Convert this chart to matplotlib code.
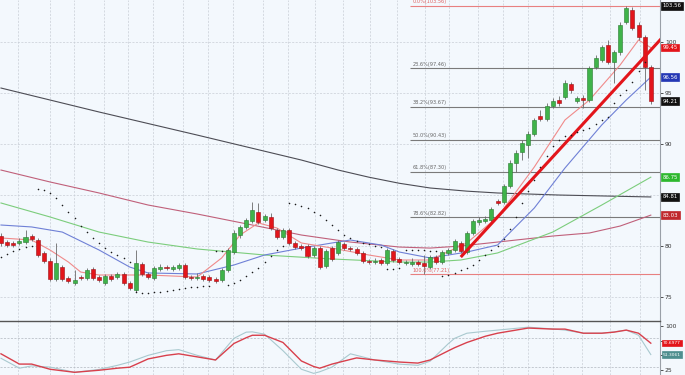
import numpy as np
import matplotlib.pyplot as plt

# ---- candles ----
opens = [80.98, 80.39, 80.30, 80.30, 80.39, 80.98, 80.59, 79.32, 78.53, 76.77,
         77.94, 76.87, 76.37, 76.96, 76.87, 77.75, 76.96, 76.37, 77.06, 76.96,
         77.26, 76.37, 75.69, 78.24, 77.26, 76.87, 77.75, 77.94, 77.75, 77.85,
         78.14, 76.96, 76.87, 77.06, 76.96, 76.77, 76.67, 77.65, 79.41, 81.08,
         81.87, 82.45, 83.34, 82.55, 82.85, 81.57, 80.88, 81.57, 80.30, 80.00,
         80.00, 79.12, 79.80, 78.04, 79.80, 79.32, 80.20, 79.80, 79.71, 79.32,
         78.53, 78.43, 78.63, 78.34, 79.51, 78.73, 78.34, 78.24, 78.43, 78.34,
         77.94, 78.92, 78.43, 79.32, 79.61, 80.30, 79.41, 81.28, 82.36, 82.45,
         82.55, 84.41, 84.32, 85.88, 88.14, 89.22, 89.90, 90.98, 92.75, 92.45,
         93.73, 94.32, 94.61, 95.88, 94.22, 94.51, 94.32, 97.55, 98.24, 99.71,
         98.04, 99.02, 101.96, 103.14, 101.67, 100.49, 97.55]
highs = [81.28, 80.59, 80.49, 80.79, 81.57, 81.18, 80.79, 79.51, 78.83, 80.30,
         78.14, 77.06, 77.65, 77.16, 77.85, 77.94, 77.16, 77.26, 77.26, 77.45,
         77.45, 76.57, 79.61, 78.43, 77.45, 78.04, 78.24, 78.14, 78.14, 78.34,
         78.34, 77.16, 77.36, 77.26, 77.16, 76.96, 77.85, 79.80, 81.57, 82.06,
         82.75, 84.32, 84.22, 83.14, 83.24, 81.77, 81.77, 81.77, 80.49, 80.20,
         80.20, 80.00, 80.00, 79.71, 80.00, 80.59, 80.39, 80.00, 79.90, 79.51,
         78.73, 78.83, 78.83, 79.80, 79.71, 78.92, 78.63, 78.83, 78.63, 79.12,
         79.12, 79.12, 79.61, 79.80, 80.69, 80.49, 81.47, 82.65, 82.85, 82.94,
         83.83, 84.61, 86.08, 88.43, 89.41, 90.39, 91.28, 92.55, 93.34, 94.02,
         94.51, 94.71, 96.28, 96.08, 94.71, 94.81, 97.65, 98.73, 99.71, 100.20,
         99.22, 101.96, 103.56, 103.45, 101.96, 100.69, 97.75]
lows = [80.00, 79.90, 79.90, 80.10, 80.20, 80.49, 78.92, 78.34, 76.57, 76.57,
        76.57, 76.37, 76.18, 76.67, 76.67, 76.67, 76.47, 76.18, 76.57, 76.77,
        76.18, 75.69, 75.49, 77.06, 76.77, 76.67, 77.55, 77.65, 77.55, 77.65,
        76.77, 76.67, 76.67, 76.57, 76.47, 76.37, 76.47, 77.45, 79.22, 80.79,
        81.67, 82.26, 82.16, 82.36, 81.57, 80.69, 80.69, 80.10, 79.71, 79.61,
        78.83, 78.92, 77.75, 77.85, 78.53, 79.12, 79.61, 79.51, 79.12, 78.34,
        78.24, 78.24, 78.14, 78.14, 78.43, 78.24, 78.14, 78.04, 78.04, 77.21,
        77.75, 78.24, 78.24, 79.12, 79.41, 79.32, 79.22, 81.08, 82.06, 82.26,
        82.36, 84.02, 84.12, 85.69, 87.26, 88.43, 88.63, 90.79, 92.26, 92.26,
        93.53, 93.73, 94.41, 95.00, 94.02, 93.53, 94.12, 97.36, 98.04, 97.84,
        95.98, 98.73, 101.77, 101.18, 100.20, 95.30, 93.92]
closes = [80.30, 80.10, 80.10, 80.49, 80.88, 80.69, 79.12, 78.53, 76.77, 78.34,
          76.77, 76.57, 76.67, 76.87, 77.65, 76.87, 76.67, 77.06, 76.77, 77.26,
          76.37, 75.88, 78.34, 77.26, 76.96, 77.85, 77.94, 77.85, 77.94, 78.14,
          76.96, 76.87, 76.96, 76.77, 76.67, 76.57, 77.65, 79.61, 81.28, 81.87,
          82.55, 83.53, 82.36, 82.94, 81.77, 80.88, 81.57, 80.30, 79.90, 79.80,
          79.02, 79.80, 77.94, 79.51, 78.73, 80.39, 79.80, 79.71, 79.32, 78.53,
          78.43, 78.53, 78.34, 79.61, 78.63, 78.43, 78.43, 78.43, 78.24, 78.04,
          78.92, 78.43, 79.41, 79.61, 80.49, 79.51, 81.28, 82.45, 82.55, 82.65,
          83.63, 84.22, 85.88, 88.14, 89.12, 90.10, 90.98, 92.36, 92.45, 93.73,
          94.22, 94.02, 95.98, 95.30, 94.51, 94.32, 97.45, 98.43, 99.51, 98.04,
          99.02, 101.67, 103.34, 101.37, 100.49, 97.55, 94.21]

# parabolic SAR, one value per candle (nan = no dot)
sar = [78.92, 79.22, 79.51, 79.71, 79.90, 80.00, 85.59, 85.49, 85.20, 84.71,
       84.02, 83.34, 82.75, 81.96, 81.37, 80.79, 80.30, 79.80, 79.41, 79.12,
       78.83, 78.43, 75.49, 75.39, 75.39, 75.49, 75.49, 75.59, 75.69, 75.78,
       75.88, 75.98, 75.98, 76.08, 76.08, 79.51, 79.51, 76.18, 76.37, 76.67,
       77.06, 77.45, 77.85, 78.43, 79.02, 79.61, 80.00, 84.22, 84.12, 83.92,
       83.73, 83.34, 83.04, 82.55, 82.06, 81.57, 81.08, 80.79, 80.49, 80.30,
       80.20, 80.00, 79.90, 77.75, 77.75, 77.85, 79.61, 79.61, 79.61, 79.61,
       79.51, 79.51, 77.06, 77.16, 77.36, 77.65, 77.85, 78.14, 78.63, 79.12,
       79.61, 80.00, 80.69, 81.67, 82.85, 84.22, 85.39, 86.47, 87.75, 88.83,
       89.81, 90.39, 90.79, 90.88, 91.18, 91.37, 91.57, 91.96, 92.36, 92.65,
       94.02, 94.81, 95.30, 96.08, 97.16, 98.04, np.nan]

# moving averages sampled at candle positions
ma200_x = [0, 16, 32, 49, 55, 60, 65, 70, 76, 81, 91, 106]
ma200_y = [95.49, 93.14, 90.88, 88.43, 87.45, 86.75, 86.15, 85.69, 85.38, 85.20,
           85.00, 84.81]
ma100_x = [0, 8, 16, 24, 32, 41, 49, 57, 65, 70, 75, 81, 90, 96, 101, 106]
ma100_y = [87.45, 86.28, 85.20, 84.02, 83.14, 82.06, 81.08, 80.39, 79.90, 79.80,
           80.00, 80.39, 80.98, 81.28, 81.96, 83.03]
ma50_x = [0, 8, 16, 24, 32, 43, 54, 65, 70, 75, 81, 90, 98, 106]
ma50_y = [84.22, 82.85, 81.37, 80.39, 79.71, 79.12, 78.73, 78.43, 78.43, 78.63,
          79.32, 81.37, 84.02, 86.75]
ma20_x = [0, 5, 10, 16, 21, 24, 32, 38, 43, 49, 54, 57, 62, 65, 70, 76, 81, 87,
          92, 98, 102, 106]
ma20_y = [82.06, 81.87, 81.37, 79.61, 77.94, 77.36, 77.26, 78.14, 79.12, 79.80,
          80.30, 80.59, 80.10, 79.41, 78.83, 79.41, 80.10, 83.73, 87.65, 91.87,
          94.32, 96.56]
ma10_x = [0, 5, 8, 11, 13, 16, 24, 32, 36, 39, 42, 45, 49, 54, 60, 65, 70, 76,
          81, 87, 92, 96, 101, 104, 106]
ma10_y = [80.79, 80.59, 79.61, 78.43, 77.45, 77.16, 77.16, 76.96, 78.83, 81.08,
          82.26, 81.77, 80.30, 79.80, 79.12, 78.63, 78.63, 80.30, 82.85, 87.75,
          92.36, 94.32, 97.75, 100.20, 99.45]

# trend line and fibonacci retracement
trend_x = [75, 107.8]
trend_y = [78.92, 100.39]
fib_pct = ['0.0%', '23.6%', '38.2%', '50.0%', '61.8%', '78.6%', '100.0%']
fib_val = [103.56, 97.46, 93.67, 90.43, 87.30, 82.82, 77.21]
fib_from = 66.7

# oscillator (slow = red, fast = teal)
osc_x = [0, 3, 5, 8, 12, 16, 19, 21, 24, 27, 29, 32, 35, 38, 40, 41, 43, 46, 49,
         51, 52, 54, 57, 58, 61, 65, 68, 70, 73, 74, 76, 79, 81, 86, 90, 92, 95,
         98, 100, 102, 104, 106]
osc_slow = [52.6, 35.1, 35.1, 26.3, 21.1, 24.6, 28.1, 29.8, 43.9, 50.0, 52.6,
            47.4, 42.1, 70.2, 80.0, 84.2, 84.2, 71.9, 40.4, 31.0, 28.1, 35.1,
            43.0, 45.6, 42.1, 38.6, 36.8, 42.1, 57.9, 63.0, 71.9, 82.5, 87.7,
            96.5, 94.7, 94.7, 87.7, 87.7, 89.5, 93.0, 87.7, 70.70]
osc_fast = [45.0, 28.1, 32.0, 30.0, 21.1, 26.0, 33.0, 38.6, 50.0, 57.9, 59.7,
            50.0, 42.0, 79.0, 89.5, 90.0, 86.0, 57.9, 26.3, 19.3, 22.0, 30.0,
            52.6, 50.0, 42.0, 35.0, 33.0, 40.0, 70.2, 79.0, 87.7, 91.0, 93.0,
            98.0, 95.0, 93.0, 87.7, 87.7, 90.0, 93.0, 84.2, 51.31]

price_ticks = [75, 80, 85, 90, 95, 100]
price_labels = ['75', '80', '', '90', '95', '100']
osc_ticks = [25, 50, 75, 100]
osc_labels = ['25', '', '', '100']
vgrid = [2.8, 8.0, 11.9, 16.8, 20.7, 24.8, 29.7, 33.8, 37.8, 42.7, 46.8, 51.2,
         55.8, 60.2, 64.6, 69.2, 73.1, 77.8, 81.9, 86.0, 90.0, 94.8, 99.3, 104.2]

bg = '#f3f8fd'
up_c, dn_c = '#3fb34a', '#e3151b'

fig = plt.figure(figsize=(6.85, 3.75), dpi=100, facecolor=bg)
ax = fig.add_axes([0, 0.144, 0.9635, 0.856], facecolor=bg)
ax2 = fig.add_axes([0, 0, 0.9635, 0.144], facecolor=bg)

xlim = (-0.16, 107.5)
for a in (ax, ax2):
    a.set_xlim(*xlim)
    a.set_xticks([])
    for x in vgrid:
        a.axvline(x, color='#c8ced6', lw=0.5, ls=(0, (3, 2)), zorder=0)
    for s in ('top', 'left', 'bottom'):
        a.spines[s].set_visible(False)
    a.spines['right'].set_color('#9aa0a8')
    a.spines['right'].set_linewidth(0.8)
    a.yaxis.tick_right()
    a.tick_params(axis='y', labelsize=4.3, length=2, width=0.6, pad=1.5,
                  colors='#333333')

# ---- price panel ----
ax.set_ylim(72.65, 104.12)
ax.set_yticks(price_ticks)
ax.set_yticklabels(price_labels)
for v in price_ticks:
    ax.axhline(v, color='#c8ced6', lw=0.5, ls=(0, (3, 2)), zorder=0)

idx = np.arange(len(closes))
o = np.array(opens); c = np.array(closes)
cols = [up_c if cc >= oo else dn_c for oo, cc in zip(o, c)]
edges = ['#2a7a30' if cc >= oo else '#9a1015' for oo, cc in zip(o, c)]
ax.vlines(idx, lows, highs, color='#6a6a6a', lw=0.6, zorder=3)
ax.bar(idx, np.maximum(np.abs(c - o), 0.06), bottom=np.minimum(o, c), width=0.66,
       color=cols, edgecolor=edges, linewidth=0.4, zorder=4)

ax.plot(ma200_x, ma200_y, color='#4d4d55', lw=0.8, zorder=2)
ax.plot(ma100_x, ma100_y, color='#c0607a', lw=0.8, zorder=2)
ax.plot(ma50_x, ma50_y, color='#7ccd7c', lw=0.8, zorder=2)
ax.plot(ma20_x, ma20_y, color='#6f80d6', lw=0.8, zorder=2)
ax.plot(ma10_x, ma10_y, color='#f08a8a', lw=0.8, zorder=2)
ax.plot(trend_x, trend_y, color='#e3151b', lw=2.2, zorder=5, solid_capstyle='butt')
ax.scatter(idx, sar, s=1.3, color='#1a1a1a', zorder=6, linewidths=0)

for i, (p, v) in enumerate(zip(fib_pct, fib_val)):
    edge = i in (0, len(fib_val) - 1)
    lc = '#e88080' if edge else '#7a7a7a'
    ax.hlines(v, fib_from, xlim[1], color=lc, lw=0.8, zorder=1)
    ax.text(fib_from + 0.5, v + 0.12, f'{p}({v:.2f})', fontsize=3.6,
            color='#e06060' if edge else '#666666', va='bottom', ha='left',
            zorder=7)


def tag(a, val, text, fc, size=3.9):
    a.text(1.004, val, text, transform=a.get_yaxis_transform(), fontsize=size,
           color='white', ha='left', va='center', zorder=20, clip_on=False,
           bbox=dict(boxstyle='square,pad=0.25', fc=fc, ec=fc, lw=0.5))


tag(ax, fib_val[0], f'{fib_val[0]:.2f}', '#111111')
tag(ax, ma10_y[-1], f'{ma10_y[-1]:.2f}', '#e3151b')
tag(ax, ma20_y[-1], f'{ma20_y[-1]:.2f}', '#2438b5')
tag(ax, closes[-1], f'{closes[-1]:.2f}', '#111111')
tag(ax, ma50_y[-1], f'{ma50_y[-1]:.2f}', '#2eb82e')
tag(ax, ma200_y[-1], f'{ma200_y[-1]:.2f}', '#111111')
tag(ax, ma100_y[-1], f'{ma100_y[-1]:.2f}', '#c0282d')

# ---- oscillator panel ----
ax2.set_ylim(16.5, 108.5)
ax2.set_yticks(osc_ticks)
ax2.set_yticklabels(osc_labels)
ax2.spines['top'].set_visible(True)
ax2.spines['top'].set_color('#555555')
ax2.spines['top'].set_linewidth(1.0)
for v in (80, 30):
    ax2.axhline(v, color='#b0b6be', lw=0.5, ls=(0, (3, 2)), zorder=0)
ax2.plot(osc_x, osc_fast, color='#a9c9cf', lw=0.8, zorder=3)
ax2.plot(osc_x, osc_slow, color='#d8404c', lw=1.0, zorder=4)
tag(ax2, osc_slow[-1], '70.6977', '#e3151b', size=3.2)
tag(ax2, osc_fast[-1], '51.3061', '#4f8f8f', size=3.2)

fig.savefig('out.png', dpi=100, facecolor=bg)
